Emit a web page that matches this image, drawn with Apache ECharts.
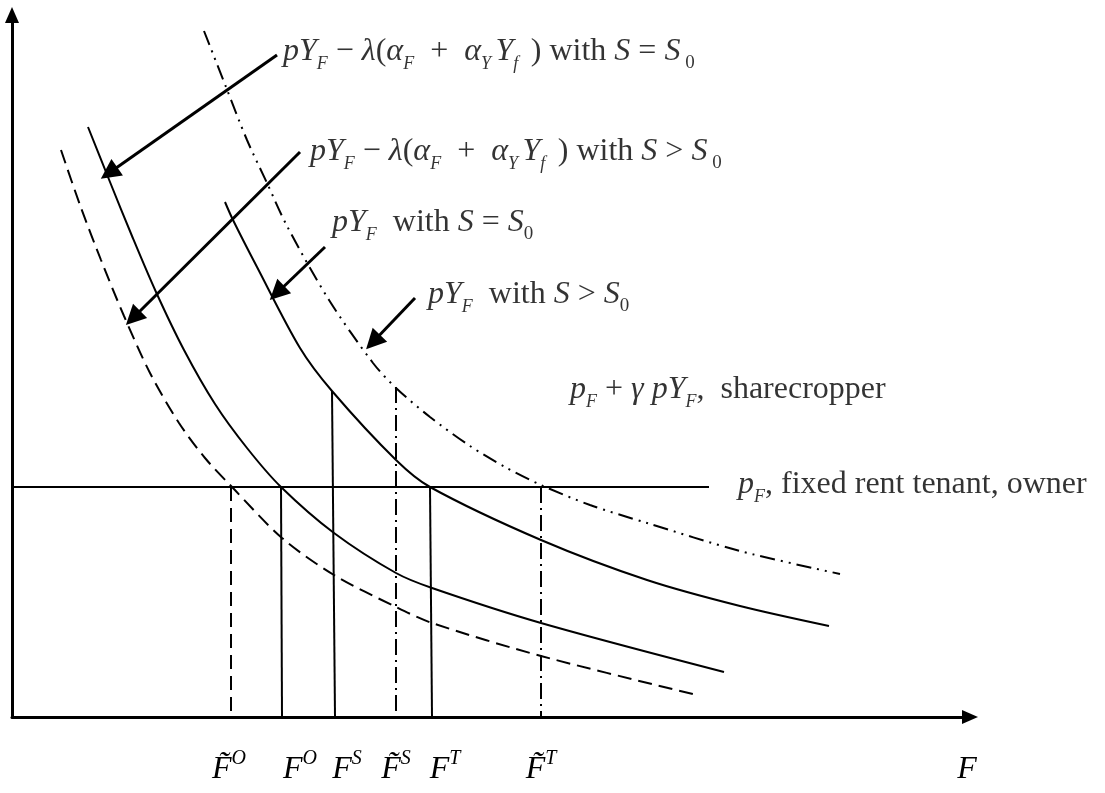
<!DOCTYPE html>
<html>
<head>
<meta charset="utf-8">
<script src="https://cdn.jsdelivr.net/npm/echarts@6/dist/echarts.min.js"></script>
<style>
  html, body { margin: 0; padding: 0; background: #fff; }
  #chart { width: 1105px; height: 793px; }
</style>
</head>
<body>
<div id="chart"></div>
<script>
// diagram units: F along x, price / value along y, origin at the axes corner
var dashedCurve = [[49,567],[68,512],[89,457],[112,401],[138,344],[167,294],[193,259],[220,230],[270,179],[322,142],[384,110],[420,94],[529,61],[681,23]]
var leftSolid = [[76,590],[98,535],[120,481],[144,425],[172,367],[203,313],[235,269],[269,230],[322,184],[384,144],[420,129],[529,94],[712,45]]
var midSolid = [[213,515],[221,497],[245,450],[288,369],[320,326],[384,257],[418,230],[529,177],[635,137],[728,111],[817,91]]
var dashDotCurve = [[192,686],[214,630],[235,577],[255,534],[275,491],[317,417],[361,354],[384,329],[418,300],[458,271],[493,250],[529,232],[578,212],[635,194],[728,166],[828,143]]
var rentLevel = 230
var rentEnd = 697

// vertical drops to the F axis: [xTop, yTop, xBottom]
var dropDashed = [[219, 230, 219]]
var dropSolid = [[269, 230, 270], [320, 326, 323], [418, 230, 420]]
var dropDashDot = [[384, 330, 384], [529, 230, 529]]

// pointer arrows: [from, to]
var arrows = [
  [[265,662],[97,544]],
  [[288,565],[121,399]],
  [[313,470],[265,424]],
  [[403,419],[361,375]]
]

var serif = '"Liberation Serif", "Times New Roman", serif'
var labelPos = [[271,665],[298,565],[320,494],[416,422],[558,327],[726,232]]
var labelText = [
  '{i|pY}{sb|F}{n| − }{i|λ}{n|(}{i|α}{sb|F}{n|  +  }{i|α}{sb|Y }{i|Y}{sb|f }{n| ) with }{i|S}{n| = }{i|S}{s0| 0}',
  '{i|pY}{sb|F}{n| − }{i|λ}{n|(}{i|α}{sb|F}{n|  +  }{i|α}{sb|Y }{i|Y}{sb|f }{n| ) with }{i|S}{n| > }{i|S}{s0| 0}',
  '{i|pY}{sb|F}{n|  with }{i|S}{n| = }{i|S}{s0|0}',
  '{i|pY}{sb|F}{n|  with }{i|S}{n| > }{i|S}{s0|0}',
  '{i|p}{sb|F}{n| + }{i|γ pY}{sb|F}{n|,  sharecropper}',
  '{i|p}{sb|F}{n|, fixed rent tenant, owner}'
]

var tickPos = [217, 288, 335, 384, 433, 529, 955]
var tickText = ['{i|F\u0303}{sp|O}', '{i|F}{sp|O}', '{i|F}{sp|S}', '{i|F\u0303}{sp|S}', '{i|F}{sp|T}', '{i|F\u0303}{sp|T}', '{i|F}']

var rich = {
  i: { fontFamily: serif, fontStyle: 'italic', fontSize: 32, lineHeight: 42, color: '#000' },
  n: { fontFamily: serif, fontSize: 32, lineHeight: 42, color: '#000' },
  sb: { fontFamily: serif, fontStyle: 'italic', fontSize: 18, lineHeight: 16, verticalAlign: 'bottom', color: '#000' },
  s0: { fontFamily: serif, fontSize: 19, lineHeight: 16, verticalAlign: 'bottom', color: '#000' },
  sp: { fontFamily: serif, fontStyle: 'italic', fontSize: 20, lineHeight: 30, verticalAlign: 'top', color: '#000' }
}

function curve(data, type) {
  return {
    type: 'line', data: data, smooth: 0.3,
    showSymbol: false, silent: true,
    lineStyle: { color: '#000', width: 2, type: type }
  }
}

function segs(list, type) {
  return {
    type: 'lines', coordinateSystem: 'cartesian2d', silent: true,
    data: list.map(function (d) { return { coords: [[d[0], d[1]], [d[2], 0]] } }),
    lineStyle: { color: '#000', width: 2, type: type, opacity: 1 }
  }
}

var chart = echarts.init(document.getElementById('chart'))
chart.setOption({
  animation: false,
  grid: { left: 12, right: 135, top: 15, bottom: 76 },
  xAxis: {
    type: 'value', min: 0, max: 958,
    axisLine: { symbol: ['none', 'triangle'], symbolSize: [14, 16], lineStyle: { color: '#000', width: 3 } },
    axisTick: { show: false },
    splitLine: { show: false },
    axisLabel: {
      customValues: tickPos, margin: 32, rich: rich, color: '#000',
      formatter: function (v) { return tickText[tickPos.indexOf(v)] }
    }
  },
  yAxis: {
    type: 'value', min: 0, max: 702,
    axisLine: { symbol: ['none', 'triangle'], symbolSize: [14, 16], lineStyle: { color: '#000', width: 3 } },
    axisTick: { show: false },
    splitLine: { show: false },
    axisLabel: { show: false }
  },
  series: [
    curve(dashedCurve, [14, 7]),
    curve(leftSolid, 'solid'),
    curve(midSolid, 'solid'),
    curve(dashDotCurve, [15, 6, 2, 6, 2, 6]),
    {
      type: 'lines', coordinateSystem: 'cartesian2d', silent: true,
      data: [{ coords: [[0, rentLevel], [rentEnd, rentLevel]] }],
      lineStyle: { color: '#000', width: 2, opacity: 1 }
    },
    segs(dropDashed, [14, 7]),
    segs(dropSolid, 'solid'),
    segs(dropDashDot, [16, 5, 2, 5]),
    {
      type: 'lines', coordinateSystem: 'cartesian2d', silent: true,
      symbol: ['none', 'triangle'], symbolSize: 20,
      data: arrows.map(function (a) { return { coords: a } }),
      lineStyle: { color: '#000', width: 3, opacity: 1 }
    },
    {
      type: 'scatter', symbolSize: 0, silent: true, clip: false,
      data: labelPos,
      label: {
        show: true, position: 'right', distance: 0, rich: rich, color: '#000',
        formatter: function (p) { return labelText[p.dataIndex] }
      }
    }
  ]
})
</script>
</body>
</html>
